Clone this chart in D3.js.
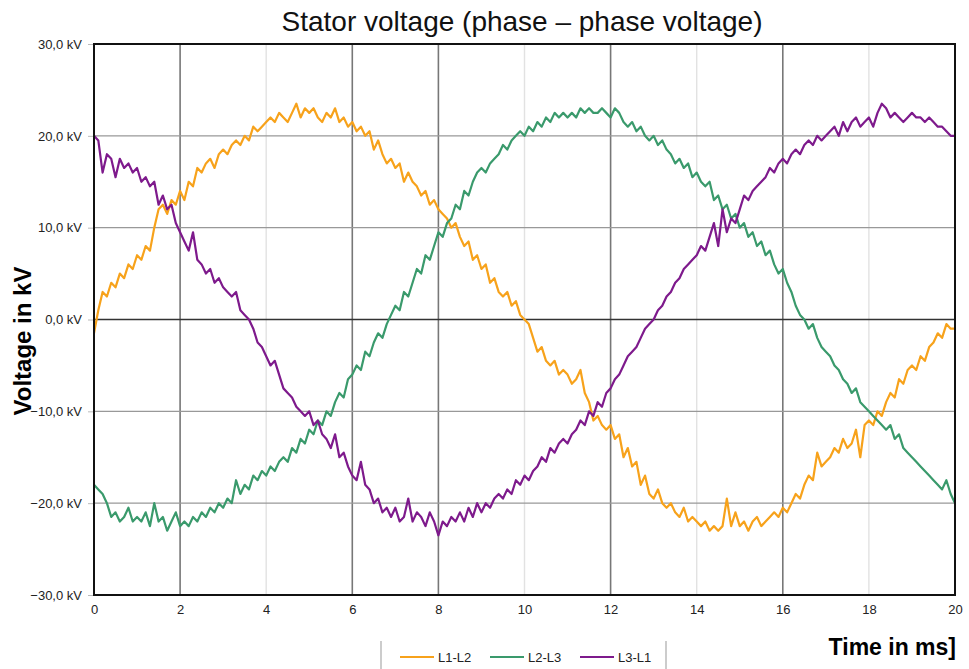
<!DOCTYPE html>
<html><head><meta charset="utf-8">
<script src="https://cdn.jsdelivr.net/npm/d3@7"></script>
<style>body{margin:0;background:#fff}svg{display:block}</style>
</head><body>
<svg id="chart" width="969" height="669"></svg>
<script>
// ---- data ----
const timeStep = 0.1; // ms
const seriesNames = ["L1-L2", "L2-L3", "L3-L1"];
const seriesColors = ["#F7A21B", "#3A9A6C", "#7E1A8C"];
const l1l2 = [
 -1.5,1,3,2.5,4,3.5,5,4.5,6,5.5,
 7,6.5,8,7.5,10,12,12.5,11.5,13,12.5,
 14,13,15,14.5,16.5,16,17,17.5,16.5,18,
 18.5,18,19,19.5,19,20,19.5,21,20.5,21,
 21.5,22,21.5,22.5,22,21.5,22.5,23.5,22,23,
 22.5,23,22,21.5,22.5,22,23,21.5,22,21,
 21.5,20.5,21,20,20.5,18.5,19.5,18,17,17.5,
 16.5,17,15,16,15,14.5,13.5,14,12.5,13,
 12,11.5,11,10,10.5,9,8,8.5,6.5,7,
 5.5,6,4,4.5,3,2.5,3,1.5,2,0.5,
 0,-0.5,-2,-3.5,-3,-4.5,-5,-4.5,-6,-5.5,
 -6,-7,-6.5,-5.5,-8,-9,-11,-10.5,-11.5,-12,
 -11.5,-13,-12.5,-15,-14,-16,-15.5,-18,-17,-19,
 -19.5,-18.5,-20,-20.5,-20,-21,-21.5,-20.5,-22,-21.5,
 -22,-22.5,-22,-23,-22.5,-23,-22.5,-19.5,-22.5,-21,
 -22.5,-22,-23,-22,-21.5,-22.5,-22,-21.5,-21,-21.5,
 -20.5,-21,-20,-19,-19.5,-18,-17,-17.5,-14.5,-16,
 -15.5,-15,-14,-14.5,-13,-14,-13.5,-12,-15,-11.5,
 -11,-11.5,-10,-10.5,-9,-8,-8.5,-6.5,-7,-5.5,
 -5,-5.5,-4,-4.5,-3,-2.5,-1.5,-2,-0.5,-1,
 -1
];
const l2l3 = [
 -18,-18.5,-19,-20,-21.5,-21,-22,-21.5,-20.5,-22,
 -21.5,-22,-21,-22.5,-20,-22,-21.5,-23,-22,-21,
 -22.5,-22,-22.5,-21.5,-22,-21,-21.5,-20.5,-21,-20,
 -20.5,-19.5,-20,-17.5,-19,-18,-18.5,-17,-17.5,-16.5,
 -17,-16,-16.5,-15.5,-15,-15.5,-14,-14.5,-13,-13.5,
 -12,-12.5,-11,-11.5,-10,-10.5,-9,-8,-8.5,-6.5,
 -6,-5,-5.5,-3.5,-4,-2.5,-1.5,-2,-0.5,0.5,
 1.5,1,3,2.5,4,5.5,5,7,6.5,8,
 9.5,9,10.5,11,12.5,12,14,13.5,15,16,
 16.5,16,17,17.5,18,19,18.5,19.5,20,20.5,
 20,21,20.5,21.5,21,22,21.5,22.5,22,22.5,
 22,22.5,22,23,22.5,23,22.5,22.5,23,22.5,
 22,23,22.5,21.5,21,21.5,20.5,21,20,19.5,
 20,19,19.5,18.5,18,17,17.5,16.5,17,15.5,
 16,15,14.5,15,13,13.5,12,12.5,11,11.5,
 10,10.5,9,9.5,8,8.5,7,7.5,6,5,
 5.5,4,3,1.5,0.5,0,-1,-0.5,-2,-3,
 -3.5,-4,-5,-5.5,-6.5,-7,-8,-7.5,-9,-9.5,
 -10,-10.5,-11,-11.5,-12,-11.5,-13,-12.5,-14,-14.5,
 -15,-15.5,-16,-16.5,-17,-17.5,-18,-18.5,-17.5,-19,
 -20
];
const l3l1 = [
 20,19.5,16,18,17.5,15.5,17.5,16.5,17,16,
 16.5,15,15.5,14.5,15,12.5,13.5,12,12.5,10.5,
 9.5,8.5,7.5,9.5,6.5,6,5,5.5,4,4.5,
 3.5,3,2.5,3,1,0.5,0,-1,-2.5,-3,
 -4,-5,-4.5,-6,-7.5,-8,-8.5,-9.5,-10,-10.5,
 -10,-11.5,-11,-12.5,-13,-14,-12.5,-15,-14.5,-16,
 -17,-17.5,-15.5,-18,-18.5,-20,-19.5,-21,-20.5,-21.5,
 -20.5,-22,-21.5,-19.5,-22,-21,-21.5,-22.5,-21,-22,
 -23.5,-22,-22.5,-21.5,-22,-21,-22,-20.5,-21.5,-20,
 -21,-20,-20.5,-19.5,-19,-19.5,-18.5,-19,-17.5,-18,
 -17,-17.5,-16.5,-16,-15,-15.5,-14,-14.5,-13.5,-13,
 -13.5,-12.5,-12,-11,-11.5,-10,-10.5,-9,-9.5,-8,
 -7.5,-6.5,-6,-5,-4,-3.5,-3,-2,-1,-0.5,
 0,1,1.5,2.5,3,4,4.5,5.5,6,6.5,
 7,8,7.5,9,10.5,8,12,9.5,11,10.5,
 12,13.5,13,14,14.5,15,15.5,16.5,16,17,
 17.5,17,18,18.5,18,19,19.5,19,20,19.5,
 20,20.5,21,20,21.5,20.5,21.5,22,21,21.5,
 22,21,22.5,23.5,23,22,22.5,22,21.5,22,
 22.5,22,22,21.5,22,21.5,21,21,20.5,20,
 20
];
const xTicks = [0,2,4,6,8,10,12,14,16,18,20];
const xTicksStrong = [2,6,8,12,16];
const yTicks = [-30,-20,-10,0,10,20,30];
const titleText = "Stator voltage (phase \u2013 phase voltage)";
const yTitle = "Voltage in kV";
const xTitle = "Time in ms]";

// ---- layout ----
const svg = d3.select("#chart");
const L = 94, R = 955, T = 44, B = 595;
const x = d3.scaleLinear().domain([0,20]).range([L,R]);
const y = d3.scaleLinear().domain([-30,30]).range([B,T]);
const font = "'Liberation Sans', Arial, sans-serif";

// gridlines
svg.append("g").selectAll("line").data(xTicks.filter(d=>d>0&&d<20)).join("line")
  .attr("x1",d=>x(d)).attr("x2",d=>x(d)).attr("y1",T).attr("y2",B)
  .attr("stroke",d=>xTicksStrong.includes(d)?"#777":"#e2e2e2")
  .attr("stroke-width",d=>xTicksStrong.includes(d)?1.6:1.4);
svg.append("g").selectAll("line").data(yTicks.filter(d=>d>-30&&d<30)).join("line")
  .attr("x1",L).attr("x2",R).attr("y1",d=>y(d)).attr("y2",d=>y(d))
  .attr("stroke",d=>d===0?"#333":"#999")
  .attr("stroke-width",d=>d===0?1.6:1.3);

// axes
const yAxis = d3.axisLeft(y).tickValues(yTicks).tickSize(6).tickPadding(6)
  .tickFormat(d=>d3.format(".1f")(d).replace(".",",")+" kV");
const gy = svg.append("g").attr("transform",`translate(${L},0)`).call(yAxis);
gy.select(".domain").remove();
gy.selectAll("line").attr("stroke","#bbb");
gy.selectAll("text").attr("font-family",font).attr("font-size",13).attr("fill","#222");

const xAxis = d3.axisBottom(x).tickValues(xTicks).tickSize(0).tickPadding(10).tickFormat(d3.format("d"));
const gx = svg.append("g").attr("transform",`translate(0,${B})`).call(xAxis);
gx.select(".domain").remove();
gx.selectAll("text").attr("font-family",font).attr("font-size",13).attr("fill","#222");

// series
const allSeries = [l1l2, l2l3, l3l1];
const line = d3.line().x((d,i)=>x(i*timeStep)).y(d=>y(d));
svg.append("g").selectAll("path").data(allSeries).join("path")
  .attr("d",line).attr("fill","none")
  .attr("stroke",(d,i)=>seriesColors[i]).attr("stroke-width",2.2)
  .attr("stroke-linejoin","round");

// frame
svg.append("rect").attr("x",L).attr("y",T).attr("width",R-L).attr("height",B-T)
  .attr("fill","none").attr("stroke","#111").attr("stroke-width",2);

// titles
svg.append("text").attr("x",522).attr("y",31).attr("text-anchor","middle")
  .attr("font-family",font).attr("font-size",28).attr("fill","#111").text(titleText);
svg.append("text").attr("transform",`translate(31,${341}) rotate(-90)`).attr("text-anchor","middle")
  .attr("font-family",font).attr("font-size",24).attr("font-weight","bold").attr("fill","#000").text(yTitle);
svg.append("text").attr("x",956).attr("y",655).attr("text-anchor","end")
  .attr("font-family",font).attr("font-size",23).attr("font-weight","bold").attr("fill","#000").text(xTitle);

// legend
const lg = svg.append("g");
lg.append("line").attr("x1",381).attr("x2",381).attr("y1",641).attr("y2",669).attr("stroke","#999");
lg.append("line").attr("x1",666).attr("x2",666).attr("y1",641).attr("y2",669).attr("stroke","#999");
const legX = [400, 490, 580];
const items = lg.selectAll("g.item").data(seriesNames).join("g").attr("class","item")
  .attr("transform",(d,i)=>`translate(${legX[i]},657)`);
items.append("line").attr("x1",0).attr("x2",34).attr("y1",0).attr("y2",0)
  .attr("stroke",(d,i)=>seriesColors[i]).attr("stroke-width",2);
items.append("text").attr("x",38).attr("y",4.5).attr("font-family",font).attr("font-size",13)
  .attr("fill","#222").text(d=>d);
</script>
</body></html>
